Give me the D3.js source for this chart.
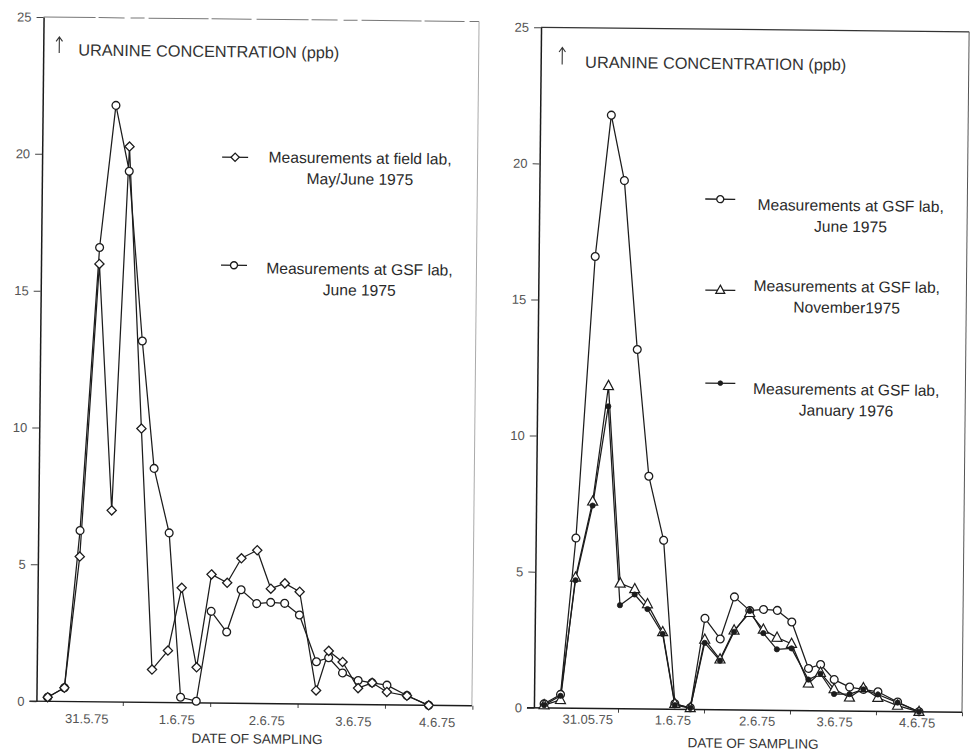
<!DOCTYPE html>
<html>
<head>
<meta charset="utf-8">
<script src="https://cdn.jsdelivr.net/npm/d3@7"></script>
<style>
  html, body { margin: 0; padding: 0; background: #fff; }
  svg { display: block; }
  text { font-family: "Liberation Sans", Arial, Helvetica, sans-serif; }
</style>
</head>
<body>
<svg id="chart" width="973" height="751"></svg>
<script>
// Sampling times, in days after 31 May 1975, 00:00
const sampleDays = [0.14, 0.33, 0.49, 0.68, 0.85, 1.01, 1.18, 1.33, 1.51, 1.66, 1.84, 2.00, 2.18,
                    2.34, 2.52, 2.68, 2.84, 3.01, 3.21, 3.35, 3.51, 3.69, 3.85, 4.02, 4.25, 4.50];

// Uranine concentration (ppb) for each sample
const fieldLabMayJune75 = [0.15, 0.5, 5.3, 16.0, 7.0, 20.3, 10.0, 1.2, 1.9, 4.2, 1.3, 4.7, 4.4,
                           5.3, 5.6, 4.2, 4.4, 4.1, 0.5, 1.95, 1.55, 0.6, 0.8, 0.47, 0.34, 0.0];
const gsfLabJune75 = [0.15, 0.5, 6.25, 16.6, 21.8, 19.4, 13.2, 8.55, 6.2, 0.2, 0.06, 3.35, 2.6,
                      4.15, 3.65, 3.7, 3.67, 3.25, 1.55, 1.7, 1.15, 0.88, 0.8, 0.72, 0.35, 0.0];
const gsfLabNov75 = [0.1, 0.3, 4.8, 7.6, 11.85, 4.6, 4.4, 3.85, 2.83, 0.2, 0.05, 2.57, 1.85,
                     2.92, 3.57, 2.96, 2.67, 2.45, 1.0, 1.4, 0.8, 0.5, 0.85, 0.5, 0.22, 0.0];
const gsfLabJan76 = [0.1, 0.45, 4.7, 7.45, 11.1, 3.8, 4.2, 3.67, 2.76, 0.15, 0.05, 2.45, 1.8,
                     2.87, 3.64, 2.83, 2.24, 2.28, 1.14, 1.36, 0.62, 0.62, 0.8, 0.62, 0.33, 0.0];

// Axis ticks and labels
const yTicks = [0, 5, 10, 15, 20, 25];
const dayTicks = [1, 2, 3, 4, 5];
const dateLabelsLeft = ["31.5.75", "1.6.75", "2.6.75", "3.6.75", "4.6.75"];
const dateLabelsRight = ["31.05.75", "1.6.75", "2.6.75", "3.6.75", "4.6.75"];
const yTitle = "URANINE CONCENTRATION (ppb)";
const xTitle = "DATE OF SAMPLING";

// Legend texts
const legendLeft = [["Measurements at field lab,", "May/June 1975"],
                    ["Measurements at GSF lab,", "June 1975"]];
const legendRight = [["Measurements at GSF lab,", "June 1975"],
                     ["Measurements at GSF lab,", "November1975"],
                     ["Measurements at GSF lab,", "January 1976"]];

const INK = "#1c1c1c";
const TILT = 0.6; // the printed page sits slightly askew

// Marker painters
const markers = {
  diamond: (sel, s = 1) => sel.append("path")
    .attr("d", `M0,${-4.6 * s}L${4.6 * s},0L0,${4.6 * s}L${-4.6 * s},0Z`)
    .attr("fill", "#fff").attr("stroke", INK).attr("stroke-width", 1.3),
  circle: (sel, s = 1) => sel.append("circle").attr("r", 3.9 * s)
    .attr("fill", "#fff").attr("stroke", INK).attr("stroke-width", 1.3),
  triangle: (sel, s = 1) => sel.append("path")
    .attr("d", `M0,${-5.6 * s}L${5 * s},${3.6 * s}L${-5 * s},${3.6 * s}Z`)
    .attr("fill", "#fff").attr("stroke", INK).attr("stroke-width", 1.2),
  dot: (sel, s = 1) => sel.append("circle").attr("r", 2.6 * s)
    .attr("fill", INK).attr("stroke", INK).attr("stroke-width", 0.8)
};

const panels = [
  {
    xRange: [39, 476], yRange: [703.5, 19.3], axisX: 40, xAxisFrom: 33, rightEdge: 475.5,
    pivot: [258, 360], labelAt: [0.59, 1.62, 2.65, 3.64, 4.6], dateLabels: dateLabelsLeft,
    labelDy: 21.5, titleX: 261, titleDy: 40,
    arrow: [56, 39, 55], yTitlePos: [75, 57.5],
    topDash: "52 3 26 6 14 4 60 3 40 5",
    series: [
      { values: gsfLabJune75, marker: "circle" },
      { values: fieldLabMayJune75, marker: "diamond" }
    ],
    legend: legendLeft, legendMarkers: ["diamond", "circle"],
    legendSym: [[233, 157.5], [233, 265.5]], legendLine: 13,
    legendText: [[358, 162.5], [358.5, 273.5]]
  },
  {
    xRange: [535.6, 965.6], yRange: [710, 29.5], axisX: 537.5, xAxisFrom: 530.6, rightEdge: 965.6,
    pivot: [750, 367], labelAt: [0.65, 1.64, 2.62, 3.52, 4.48], dateLabels: dateLabelsRight,
    labelDy: 15.5, titleX: 757, titleDy: 38,
    arrow: [559, 49.5, 66.5], yTitlePos: [582, 69.5],
    topDash: null,
    series: [
      { values: gsfLabJune75, marker: "circle" },
      { values: gsfLabNov75, marker: "triangle" },
      { values: gsfLabJan76, marker: "dot" }
    ],
    legend: legendRight, legendMarkers: ["circle", "triangle", "dot"],
    legendSym: [[718.5, 199.5], [719.5, 290.5], [720.5, 383.5]], legendLine: 15,
    legendText: [[849, 210], [846, 291], [846.5, 394]]
  }
];

const svg = d3.select("#chart");
svg.append("rect").attr("width", 973).attr("height", 751).attr("fill", "#fff");

panels.forEach(cfg => {
  const g = svg.append("g")
    .attr("transform", `rotate(${TILT},${cfg.pivot[0]},${cfg.pivot[1]})`);
  const x = d3.scaleLinear().domain([0, 5]).range(cfg.xRange);
  const y = d3.scaleLinear().domain([0, 25]).range(cfg.yRange);

  // frame: top and right edges
  g.append("line")
    .attr("x1", cfg.axisX).attr("x2", cfg.rightEdge)
    .attr("y1", y(25)).attr("y2", y(25))
    .attr("stroke", cfg.topDash ? "#777" : "#333")
    .attr("stroke-width", cfg.topDash ? 1 : 1.2)
    .attr("stroke-dasharray", cfg.topDash);
  g.append("line")
    .attr("x1", cfg.rightEdge).attr("x2", cfg.rightEdge)
    .attr("y1", y(25)).attr("y2", y(0))
    .attr("stroke", cfg.topDash ? "#aaa" : "#555").attr("stroke-width", 1);

  // y axis
  const yAxisG = g.append("g")
    .attr("transform", `translate(${cfg.axisX},0)`)
    .call(d3.axisLeft(y).tickValues(yTicks).tickSize(7).tickSizeOuter(0).tickPadding(5));
  yAxisG.select(".domain").attr("stroke", INK).attr("stroke-width", 1.5);
  yAxisG.selectAll(".tick line").attr("stroke", "#444").attr("stroke-width", 1);
  yAxisG.selectAll(".tick text")
    .attr("fill", "#555").style("font-size", "13px")
    .style("font-family", "'Liberation Sans', Arial, sans-serif");

  // x axis
  const xAxisG = g.append("g")
    .attr("transform", `translate(0,${y(0)})`)
    .call(d3.axisBottom(x).tickValues(dayTicks).tickSize(4).tickSizeOuter(0).tickFormat(""));
  xAxisG.select(".domain").remove();
  xAxisG.selectAll(".tick line").attr("stroke", "#444").attr("stroke-width", 1);
  g.append("line")
    .attr("x1", cfg.xAxisFrom).attr("x2", cfg.rightEdge)
    .attr("y1", y(0)).attr("y2", y(0))
    .attr("stroke", INK).attr("stroke-width", 1.5);

  // date labels
  g.selectAll("text.date").data(cfg.dateLabels).join("text")
    .attr("class", "date")
    .attr("x", (d, i) => x(cfg.labelAt[i]))
    .attr("y", y(0) + cfg.labelDy)
    .attr("text-anchor", "middle")
    .attr("fill", "#555").style("font-size", "13px")
    .text(d => d);

  // axis titles
  g.append("text")
    .attr("x", cfg.titleX).attr("y", y(0) + cfg.titleDy)
    .attr("text-anchor", "middle").attr("fill", "#333")
    .style("font-size", "13.5px").text(xTitle);
  // upward arrow in front of the quantity name
  const [ax, aTop, aBot] = cfg.arrow;
  g.append("path")
    .attr("d", `M${ax},${aBot}V${aTop}M${ax - 3.2},${aTop + 4.5}L${ax},${aTop}L${ax + 3.2},${aTop + 4.5}`)
    .attr("fill", "none").attr("stroke", "#333").attr("stroke-width", 1.1);
  g.append("text")
    .attr("x", cfg.yTitlePos[0]).attr("y", cfg.yTitlePos[1])
    .attr("fill", "#333").style("font-size", "16.3px").text(yTitle);

  // series lines and markers
  const line = d3.line()
    .x((d, i) => x(sampleDays[i]))
    .y(d => y(d));
  cfg.series.forEach(s => {
    g.append("path").datum(s.values)
      .attr("d", line).attr("fill", "none")
      .attr("stroke", INK).attr("stroke-width", 1.25)
      .attr("stroke-linejoin", "round");
  });
  cfg.series.forEach(s => {
    g.append("g").selectAll("g").data(s.values).join("g")
      .attr("transform", (d, i) => `translate(${x(sampleDays[i])},${y(d)})`)
      .each(function () { markers[s.marker](d3.select(this)); });
  });

  // legend
  cfg.legend.forEach((lines, k) => {
    const [sx, sy] = cfg.legendSym[k];
    g.append("line")
      .attr("x1", sx - cfg.legendLine).attr("x2", sx + cfg.legendLine)
      .attr("y1", sy).attr("y2", sy)
      .attr("stroke", INK).attr("stroke-width", 1.3);
    markers[cfg.legendMarkers[k]](g.append("g").attr("transform", `translate(${sx},${sy})`), 0.9);
    const [tx, ty] = cfg.legendText[k];
    lines.forEach((t, j) => {
      g.append("text")
        .attr("x", tx).attr("y", ty + j * 21)
        .attr("text-anchor", "middle").attr("fill", "#2a2a2a")
        .style("font-size", "15.6px").text(t);
    });
  });
});
</script>
</body>
</html>
